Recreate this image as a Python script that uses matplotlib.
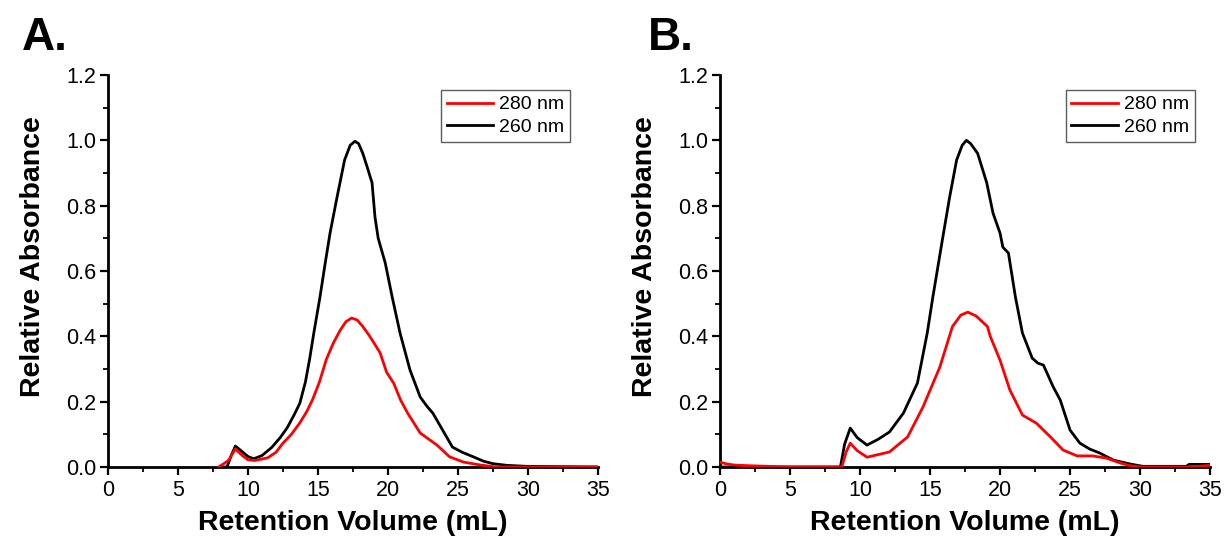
import matplotlib
matplotlib.use("Agg")
import matplotlib.pyplot as plt
from matplotlib.ticker import MultipleLocator

plt.rcParams['font.family'] = ['Liberation Sans', 'DejaVu Sans']

# ---- Panel A data ----
a_x260 = [8.2, 8.5, 8.8, 9.1, 9.5, 10.0, 10.4, 11.0, 11.7, 12.3, 12.8, 13.3, 13.7, 14.1, 14.4,
          14.7, 15.14, 15.5, 15.86, 16.36, 16.9, 17.3, 17.64, 17.9, 18.2, 18.5, 18.86, 19.07, 19.3,
          19.8, 20.3, 20.86, 21.57, 22.3, 22.8, 23.2, 23.9, 24.6, 25.3, 26.1, 26.8, 27.5, 28.5, 29.9, 35.0]
a_y260 = [0.0, 0.0, 0.035, 0.064, 0.05, 0.032, 0.025, 0.035, 0.06, 0.09, 0.12, 0.16, 0.195, 0.26, 0.33,
          0.41, 0.52, 0.62, 0.716, 0.826, 0.94, 0.985, 0.997, 0.99, 0.96, 0.92, 0.87, 0.765, 0.70,
          0.625, 0.52, 0.41, 0.297, 0.214, 0.185, 0.165, 0.113, 0.061, 0.045, 0.031, 0.018, 0.01, 0.005, 0.002, 0.0]

a_x280 = [7.9, 8.2, 8.6, 9.1, 9.6, 10.0, 10.5, 11.4, 12.0, 12.5, 13.1, 13.7, 14.2, 14.6, 15.1,
          15.6, 16.1, 16.6, 17.0, 17.4, 17.8, 18.2, 18.7, 19.43, 19.9, 20.4, 20.9, 21.4, 22.3,
          23.5, 24.4, 25.4, 26.6, 27.7, 35.0]
a_y280 = [0.0, 0.008, 0.02, 0.055, 0.035, 0.022, 0.02, 0.028, 0.045, 0.073, 0.10, 0.135, 0.17, 0.205, 0.26,
          0.33, 0.38, 0.42, 0.445, 0.456, 0.45, 0.43, 0.40, 0.35, 0.29, 0.257, 0.205, 0.165, 0.104,
          0.067, 0.031, 0.015, 0.006, 0.0, 0.0]

# ---- Panel B data ----
b_x260 = [0.0, 8.6, 8.9, 9.3, 9.8, 10.5, 11.3, 12.1, 13.1, 14.1, 14.8, 15.2, 15.9, 16.4, 16.9,
          17.3, 17.6, 17.9, 18.4, 19.05, 19.5, 20.0, 20.2, 20.6, 21.1, 21.6, 22.3, 22.7, 23.1,
          23.8, 24.3, 25.0, 25.7, 26.4, 27.1, 28.1, 29.3, 30.2, 33.3, 33.5, 35.0]
b_y260 = [0.0, 0.0, 0.07, 0.119, 0.09, 0.067, 0.085, 0.107, 0.165, 0.257, 0.41, 0.52, 0.70, 0.826, 0.94,
          0.985, 1.0, 0.99, 0.96, 0.87, 0.777, 0.716, 0.673, 0.655, 0.52, 0.41, 0.333, 0.318, 0.312,
          0.245, 0.205, 0.113, 0.073, 0.055, 0.043, 0.021, 0.009, 0.002, 0.002, 0.008, 0.008]

b_x280 = [0.0, 0.4, 1.0, 2.0, 3.5, 5.0, 8.7, 9.0, 9.3, 9.8, 10.5, 11.3, 12.1, 13.4, 14.5, 15.7,
          16.6, 17.2, 17.7, 18.3, 19.1, 19.3, 20.0, 20.7, 21.6, 22.6, 23.6, 24.5, 25.5, 26.6,
          27.6, 28.6, 29.3, 30.0, 33.5, 35.0]
b_y280 = [0.015, 0.01, 0.006, 0.004, 0.002, 0.0, 0.0, 0.045, 0.073, 0.05, 0.03, 0.038, 0.046, 0.092, 0.184, 0.306,
          0.43, 0.465, 0.474, 0.462, 0.43, 0.40, 0.327, 0.236, 0.159, 0.134, 0.092, 0.052, 0.034, 0.034,
          0.027, 0.012, 0.004, 0.0, 0.0, 0.005]

series_labels = ["280 nm", "260 nm"]
panel_titles = ["A.", "B."]

fig = plt.figure(figsize=(12.27, 5.42), dpi=100)
axA = fig.add_axes([0.088, 0.1384, 0.3994, 0.7232])
axB = fig.add_axes([0.5868, 0.1384, 0.3994, 0.7232])

panels = [
    (axA, a_x280, a_y280, a_x260, a_y260, 0.943),
    (axB, b_x280, b_y280, b_x260, b_y260, 0.969),
]

for ax, x280, y280, x260, y260, lx in panels:
    ax.plot(x280, y280, color='#ff0000', lw=2.0, label=series_labels[0], zorder=3)
    ax.plot(x260, y260, color='black', lw=2.0, label=series_labels[1], zorder=2)
    ax.set_xlim(0, 35)
    ax.set_ylim(0, 1.2)
    ax.xaxis.set_major_locator(MultipleLocator(5))
    ax.xaxis.set_minor_locator(MultipleLocator(2.5))
    ax.yaxis.set_major_locator(MultipleLocator(0.2))
    ax.yaxis.set_minor_locator(MultipleLocator(0.1))
    ax.yaxis.set_major_formatter(matplotlib.ticker.FormatStrFormatter('%.1f'))
    for s in ['top', 'right']:
        ax.spines[s].set_visible(False)
    for s in ['left', 'bottom']:
        ax.spines[s].set_linewidth(2.0)
    ax.tick_params(which='major', direction='out', length=5.8, width=1.6, labelsize=15.5)
    ax.tick_params(axis='x', which='major', pad=3.6)
    ax.tick_params(axis='y', which='major', pad=2.5)
    ax.tick_params(which='minor', direction='out', length=3.5, width=1.3)
    ax.set_xlabel('Retention Volume (mL)', fontsize=20.5, fontweight='bold')
    ax.set_ylabel('Relative Absorbance', fontsize=20.5, fontweight='bold')
    ax.xaxis.set_label_coords(0.5, -0.11)
    ax.yaxis.set_label_coords(-0.127, 0.538)
    leg = ax.legend(loc='upper right', bbox_to_anchor=(lx, 0.962), fontsize=14,
                    frameon=True, fancybox=False, handlelength=2.4, handletextpad=0.3,
                    borderpad=0.3, labelspacing=0.25, borderaxespad=0)
    leg.get_frame().set_edgecolor('#333333')
    leg.get_frame().set_linewidth(1.0)

fig.text(0.018, 0.89, panel_titles[0], fontsize=33, fontweight='bold', ha='left', va='bottom')
fig.text(0.528, 0.89, panel_titles[1], fontsize=33, fontweight='bold', ha='left', va='bottom')

fig.savefig('out.png', dpi=100)
